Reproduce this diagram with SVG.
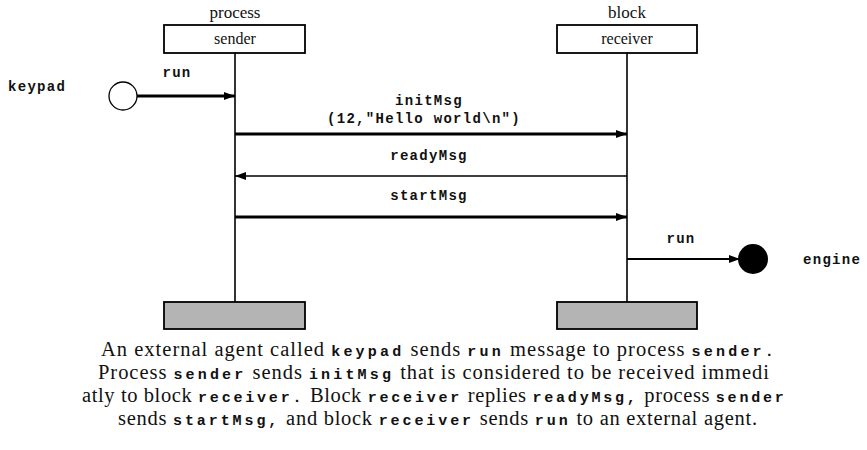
<svg xmlns="http://www.w3.org/2000/svg" width="867" height="450" viewBox="0 0 867 450">
<style>
.bg{fill:#ffffff}
.hdr{fill:#ffffff;stroke:#000;stroke-width:1.8}
.foot{fill:#b4b4b4;stroke:#000;stroke-width:1.8}
.life{stroke:#000;stroke-width:1.6;fill:none}
.thick{stroke:#000;stroke-width:3;fill:none}
.thin{stroke:#000;stroke-width:1.6;fill:none}
.mid{stroke:#000;stroke-width:2.2;fill:none}
.ser{font-family:"Liberation Serif","Times New Roman",serif;fill:#111}
.mono{font-family:"Liberation Mono","Courier New",monospace;font-weight:bold;fill:#111}
.lbl{font-size:14px;letter-spacing:1.3px}
.cap{font-size:20.5px}
.capm{font-size:15px;letter-spacing:2.2px}
</style>
<defs>
<marker id="ah" markerUnits="userSpaceOnUse" markerWidth="12" markerHeight="10" refX="11" refY="5" orient="auto">
<path d="M0,1 L11,5 L0,9 Z" fill="#000"/>
</marker>
</defs>
<rect class="bg" x="0" y="0" width="867" height="450"/>

<g id="sender">
<text class="ser" x="235" y="18" font-size="17" text-anchor="middle">process</text>
<rect class="hdr" x="164" y="25" width="141" height="28"/>
<text class="ser" x="235" y="44" font-size="16" text-anchor="middle">sender</text>
<line class="life" x1="235" y1="53" x2="235" y2="302"/>
<rect class="foot" x="164" y="302" width="141" height="27"/>
</g>

<g id="receiver">
<text class="ser" x="627" y="18" font-size="17" text-anchor="middle">block</text>
<rect class="hdr" x="557" y="25" width="140" height="28"/>
<text class="ser" x="627" y="44" font-size="16" text-anchor="middle">receiver</text>
<line class="life" x1="627" y1="53" x2="627" y2="302"/>
<rect class="foot" x="557" y="302" width="140" height="27"/>
</g>

<g id="keypad">
<text class="mono lbl" x="8" y="91">keypad</text>
<circle cx="123" cy="96" r="14" fill="#fff" stroke="#000" stroke-width="1.3"/>
</g>

<g id="engine">
<circle cx="753" cy="259" r="15" fill="#000"/>
<text class="mono lbl" x="803" y="264">engine</text>
</g>

<g id="connectors">
<line class="thick" x1="137" y1="96" x2="235" y2="96" marker-end="url(#ah)"/>
<text class="mono lbl" x="177" y="77" text-anchor="middle">run</text>

<line class="thick" x1="235" y1="134" x2="627" y2="134" marker-end="url(#ah)"/>
<text class="mono lbl" x="429" y="105" text-anchor="middle">initMsg</text>
<text class="mono lbl" x="424" y="123" text-anchor="middle">(12,"Hello world\n")</text>

<line class="thin" x1="627" y1="176" x2="235" y2="176" marker-end="url(#ah)"/>
<text class="mono lbl" x="429" y="160" text-anchor="middle">readyMsg</text>

<line class="thick" x1="235" y1="217" x2="627" y2="217" marker-end="url(#ah)"/>
<text class="mono lbl" x="429" y="200" text-anchor="middle">startMsg</text>

<line class="mid" x1="627" y1="259" x2="740" y2="259" marker-end="url(#ah)"/>
<text class="mono lbl" x="681" y="243" text-anchor="middle">run</text>
</g>

<g id="caption">
<text class="ser cap" x="101" y="356" textLength="675" lengthAdjust="spacing">An external agent called <tspan class="mono capm">keypad</tspan> sends <tspan class="mono capm">run</tspan> message to process <tspan class="mono capm">sender.</tspan></text>
<text class="ser cap" x="98" y="379" textLength="671" lengthAdjust="spacing">Process <tspan class="mono capm">sender</tspan> sends <tspan class="mono capm">initMsg</tspan> that is considered to be received immedi</text>
<text class="ser cap" x="82" y="402" textLength="704" lengthAdjust="spacing">atly to block <tspan class="mono capm">receiver.</tspan> Block <tspan class="mono capm">receiver</tspan> replies <tspan class="mono capm">readyMsg,</tspan> process <tspan class="mono capm">sender</tspan></text>
<text class="ser cap" x="118" y="425" textLength="639" lengthAdjust="spacing">sends <tspan class="mono capm">startMsg,</tspan> and block <tspan class="mono capm">receiver</tspan> sends <tspan class="mono capm">run</tspan> to an external agent.</text>
</g>
</svg>
